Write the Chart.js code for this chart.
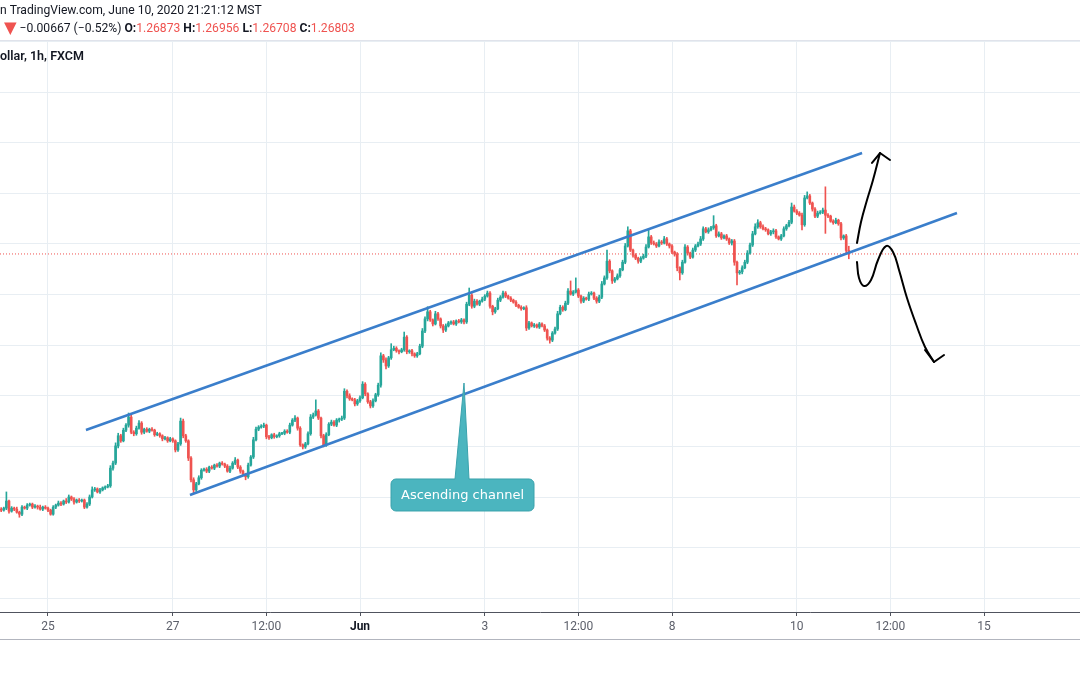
<!DOCTYPE html>
<html>
<head>
<meta charset="utf-8">
<script src="https://cdn.jsdelivr.net/npm/chart.js"></script>
<style>
  html, body { margin: 0; padding: 0; background: #fff; }
  #wrap { width: 1080px; height: 675px; position: relative; }
</style>
</head>
<body>
<div id="wrap"><canvas id="chart"></canvas></div>
<script>
/*
DATA
*/
// hourly candles, hour 0 = 25 May 00:00 (weekends skipped)
const firstHour = -18;
const firstOpen = 1.2176;
const closes = [
  1.2174,1.2178,1.2192,1.2172,1.2178,1.2176,1.2170,1.2166,1.2180,1.2178,1.2184,1.2186,1.2180,1.2182,1.2180,1.2176,1.2180,1.2178,1.2174,1.2166,
  1.2180,1.2184,1.2188,1.2186,1.2192,1.2190,1.2200,1.2196,1.2190,1.2194,1.2192,1.2194,1.2180,1.2186,1.2200,1.2214,1.2216,1.2210,1.2214,1.2218,
  1.2220,1.2222,1.2257,1.2267,1.2301,1.2321,1.2311,1.2332,1.2342,1.2358,1.2328,1.2325,1.2336,1.2346,1.2328,1.2334,1.2330,1.2334,1.2332,1.2323,
  1.2325,1.2321,1.2315,1.2317,1.2311,1.2315,1.2311,1.2293,1.2305,1.2350,1.2321,1.2311,1.2277,1.2234,1.2214,1.2226,1.2238,1.2253,1.2255,1.2251,
  1.2259,1.2257,1.2263,1.2261,1.2267,1.2265,1.2261,1.2251,1.2257,1.2267,1.2273,1.2259,1.2251,1.2245,1.2240,1.2263,1.2279,1.2313,1.2334,1.2338,
  1.2340,1.2342,1.2319,1.2317,1.2323,1.2319,1.2321,1.2325,1.2326,1.2330,1.2328,1.2342,1.2352,1.2356,1.2336,1.2303,1.2299,1.2305,1.2325,1.2358,
  1.2362,1.2370,1.2356,1.2321,1.2303,1.2323,1.2344,1.2348,1.2342,1.2352,1.2354,1.2356,1.2409,1.2400,1.2394,1.2392,1.2384,1.2390,1.2396,1.2423,
  1.2404,1.2388,1.2380,1.2390,1.2402,1.2421,1.2479,1.2471,1.2459,1.2475,1.2491,1.2494,1.2489,1.2487,1.2491,1.2516,1.2487,1.2489,1.2483,1.2479,
  1.2483,1.2498,1.2528,1.2552,1.2566,1.2550,1.2542,1.2562,1.2552,1.2538,1.2530,1.2538,1.2544,1.2546,1.2542,1.2548,1.2546,1.2550,1.2546,1.2581,
  1.2599,1.2577,1.2587,1.2581,1.2587,1.2591,1.2597,1.2603,1.2577,1.2566,1.2572,1.2589,1.2595,1.2603,1.2597,1.2593,1.2589,1.2585,1.2579,1.2575,
  1.2572,1.2574,1.2534,1.2544,1.2538,1.2540,1.2536,1.2542,1.2538,1.2530,1.2514,1.2510,1.2524,1.2532,1.2562,1.2575,1.2570,1.2583,1.2607,1.2601,
  1.2605,1.2609,1.2597,1.2587,1.2593,1.2591,1.2601,1.2603,1.2593,1.2587,1.2595,1.2621,1.2633,1.2666,1.2647,1.2627,1.2631,1.2637,1.2649,1.2664,
  1.2696,1.2726,1.2688,1.2678,1.2672,1.2666,1.2672,1.2676,1.2694,1.2714,1.2702,1.2700,1.2696,1.2704,1.2702,1.2710,1.2700,1.2696,1.2684,1.2680,
  1.2653,1.2643,1.2664,1.2694,1.2682,1.2674,1.2688,1.2696,1.2700,1.2710,1.2730,1.2724,1.2728,1.2732,1.2736,1.2716,1.2720,1.2712,1.2716,1.2710,
  1.2702,1.2706,1.2664,1.2643,1.2645,1.2653,1.2664,1.2682,1.2698,1.2720,1.2734,1.2742,1.2734,1.2730,1.2728,1.2720,1.2724,1.2726,1.2714,1.2710,
  1.2716,1.2730,1.2736,1.2743,1.2773,1.2765,1.2761,1.2757,1.2738,1.2791,1.2795,1.2781,1.2769,1.2755,1.2761,1.2763,1.2767,1.2757,1.2755,1.2745,
  1.2742,1.2747,1.2740,1.2712,1.2716,1.26873,1.26803
];
// wick lengths above / below the body, in pips
const wickUp = [
  3,2,18,2,3,2,4,2,3,2,3,2,2,3,2,4,2,3,2,2,
  3,2,4,3,2,5,4,2,3,2,3,2,2,3,4,6,3,2,3,2,
  2,3,5,4,6,5,3,4,3,8,4,3,4,5,3,2,3,2,3,2,
  3,2,2,3,2,3,2,2,3,6,4,3,2,3,4,3,4,3,2,3,
  2,3,2,3,2,3,2,3,4,3,5,2,3,2,2,4,3,5,4,3,
  3,4,2,3,2,3,2,3,2,3,3,4,3,5,2,3,2,3,4,5,
  4,22,3,2,3,4,3,4,3,3,2,4,5,3,4,2,3,3,4,5,
  3,2,3,4,3,4,6,3,4,3,12,4,3,2,3,10,3,2,3,2,
  3,4,5,4,10,3,2,5,3,2,3,4,3,2,3,2,3,3,2,4,
  14,3,4,3,2,4,3,4,3,2,3,4,3,4,3,2,3,2,3,2,
  3,2,4,3,2,3,2,3,2,3,2,3,3,4,5,4,3,4,5,20,
  3,24,3,2,3,2,4,3,2,3,4,5,4,22,3,2,3,4,3,4,
  5,8,3,2,3,2,3,4,5,14,3,4,3,4,3,5,3,2,3,2,
  3,2,4,5,3,2,4,3,4,5,4,3,4,3,20,3,4,3,2,3,
  2,3,3,2,3,4,4,5,4,5,6,6,3,4,3,2,3,4,3,2,
  3,4,3,4,8,4,3,3,4,5,8,3,2,3,4,3,4,46,3,2,
  3,4,2,3,2,3,8.3
];
const wickDn = [
  3,2,3,4,2,3,2,6,3,2,3,2,3,2,4,2,3,2,3,2,
  2,3,2,3,2,3,2,3,4,2,3,2,3,2,3,2,3,2,3,2,
  3,2,3,4,3,4,3,2,3,4,3,4,3,2,4,3,2,3,2,3,
  2,3,4,2,3,2,3,4,3,3,4,3,5,4,6,3,2,3,2,3,
  3,2,3,2,3,2,3,2,3,2,3,3,4,3,6,3,2,3,2,3,
  2,3,4,3,2,3,2,3,2,3,2,3,2,3,4,3,4,3,2,3,
  3,2,3,4,4,3,2,3,2,3,4,3,3,4,3,2,4,3,3,2,
  4,3,4,3,2,3,4,5,6,3,3,2,3,4,2,3,4,3,4,3,
  3,2,3,3,4,3,4,2,3,4,5,3,2,3,2,3,2,3,4,3,
  3,4,3,2,3,2,3,2,4,6,3,2,3,2,3,2,3,2,3,2,
  3,2,5,3,2,3,2,3,2,3,4,6,3,2,3,2,3,2,3,2,
  3,2,3,4,3,2,3,2,3,4,3,3,2,3,4,5,3,2,3,2,
  3,2,3,4,3,4,3,2,3,2,3,2,3,2,3,2,3,4,3,4,
  6,14,3,2,4,3,2,3,2,3,3,2,3,2,3,3,2,3,2,3,
  3,4,6,24,3,4,2,3,2,3,2,3,3,2,3,2,3,4,3,2,
  3,2,3,2,3,2,3,2,10,3,2,3,4,3,3,2,3,36,3,2,
  3,2,3,4,3,5,9.5
];

const tickHours = [0, 48, 84, 120, 168, 204, 240, 288, 324, 360];
const tickLabels = ['25', '27', '12:00', 'Jun', '3', '12:00', '8', '10', '12:00', '15'];
const priceGrid = [1.20, 1.21, 1.22, 1.23, 1.24, 1.25, 1.26, 1.27, 1.28, 1.29, 1.30, 1.31];
const hourRange = [-18.46, 396.92];
const priceRange = [1.197273, 1.310316];

// drawings (hour, price)
const channelUpper = [{x: 14.6, y: 1.23324}, {x: 313.1, y: 1.28798}];
const channelLower = [{x: 54.6, y: 1.22040}, {x: 349.6, y: 1.27613}];
const arrowUp = [
  {x: 311.15, y: 1.27020}, {x: 312.69, y: 1.27435}, {x: 315.0, y: 1.27869},
  {x: 317.31, y: 1.28265}, {x: 320.0, y: 1.28798}
];
const arrowUpHead = [{x: 316.92, y: 1.28601}, {x: 320.0, y: 1.28798}, {x: 323.85, y: 1.28660}];
const arrowDown = [
  {x: 311.15, y: 1.26644}, {x: 311.92, y: 1.26328}, {x: 313.85, y: 1.26170},
  {x: 316.54, y: 1.26289}, {x: 319.23, y: 1.26684}, {x: 322.31, y: 1.26960},
  {x: 325.0, y: 1.26842}, {x: 327.31, y: 1.26486}, {x: 330.38, y: 1.25933},
  {x: 333.85, y: 1.25419}, {x: 337.31, y: 1.24964}, {x: 340.77, y: 1.24668}
];
const arrowDownHead = [{x: 337.31, y: 1.24905}, {x: 340.77, y: 1.24668}, {x: 344.62, y: 1.24806}];
const calloutTip = {x: 160, y: 1.24253};
const calloutText = 'Ascending channel';

const titleText = 'n TradingView.com, June 10, 2020 21:21:12 MST';
const changeText = '\u22120.00667 (\u22120.52%)';
const symbolText = 'ollar, 1h, FXCM';

/*
COLORS
*/
const GREEN = '#26a69a';
const RED = '#ef5350';
const GRID = '#e8eef3';
const TEXT = '#131722';
const FONT = 'Roboto, "Liberation Sans", sans-serif';

/*
CANDLES
*/
const PIP = 0.0001;
const opens = closes.map((c, i) => i ? closes[i - 1] : firstOpen);
const highs = closes.map((c, i) => Math.max(opens[i], c) + wickUp[i] * PIP);
const lows = closes.map((c, i) => Math.min(opens[i], c) - wickDn[i] * PIP);
const candleColor = closes.map((c, i) => c >= opens[i] ? GREEN : RED);
const last = closes.length - 1;

let wickData = closes.map((c, i) => ({x: firstHour + i, y: [lows[i], highs[i]]}));
let bodyData = closes.map((c, i) => ({x: firstHour + i, y: [Math.min(opens[i], c), Math.max(opens[i], c)]}));

function fitFont(ctx, text, width, weight, family) {
  ctx.font = weight + ' 20px ' + family;
  let size = 20 * width / ctx.measureText(text).width;
  return weight + ' ' + size.toFixed(2) + 'px ' + family;
}

// header texts, pane borders
const headerPlugin = {
  id: 'header',
  afterDraw(chart) {
    const ctx = chart.ctx;
    ctx.save();
    ctx.strokeStyle = '#e0e3eb';
    ctx.lineWidth = 1;
    ctx.beginPath();
    ctx.moveTo(0, 40.5); ctx.lineTo(1080, 40.5);
    ctx.stroke();
    ctx.strokeStyle = '#b2b5be';
    ctx.beginPath();
    ctx.moveTo(0, 639.5); ctx.lineTo(1080, 639.5);
    ctx.stroke();

    ctx.textBaseline = 'middle';
    ctx.textAlign = 'left';
    let f1 = fitFont(ctx, titleText, 262, '400', FONT);
    ctx.font = f1;
    ctx.fillStyle = TEXT;
    ctx.fillText(titleText, 0, 11);

    let size = parseFloat(f1.split(' ')[1]);
    let normal = '400 ' + size + 'px ' + FONT;
    let bold = '700 ' + size + 'px ' + FONT;
    let arrowFont = '400 ' + (size * 1.35).toFixed(2) + 'px "DejaVu Sans", sans-serif';
    let ohlc = [opens[last], highs[last], lows[last], closes[last]];
    let parts = [['\u25BC', RED, arrowFont], [' ' + changeText + ' ', TEXT, normal]];
    ['O', 'H', 'L', 'C'].forEach((k, i) => {
      parts.push([(i ? ' ' : '') + k + ':', TEXT, bold]);
      parts.push([ohlc[i].toFixed(5), RED, normal]);
    });
    let x = 4;
    for (let p of parts) {
      ctx.font = p[2];
      ctx.fillStyle = p[1];
      ctx.fillText(p[0], x, 29);
      x += ctx.measureText(p[0]).width;
    }

    ctx.font = fitFont(ctx, symbolText, 84, '600', FONT);
    ctx.fillStyle = TEXT;
    ctx.fillText(symbolText, 0, 57);
    ctx.restore();
  }
};

// text callout pointing at the lower channel line
const calloutPlugin = {
  id: 'callout',
  afterDatasetsDraw(chart) {
    const {ctx, scales: {x, y}} = chart;
    let tx = x.getPixelForValue(calloutTip.x);
    let ty = y.getPixelForValue(calloutTip.y);
    let L = tx - 73, R = tx + 70, T = ty + 96, B = ty + 128, r = 5;
    ctx.save();
    ctx.beginPath();
    ctx.moveTo(L + r, T);
    ctx.lineTo(tx - 9, T);
    ctx.lineTo(tx, ty);
    ctx.lineTo(tx + 5, T);
    ctx.lineTo(R - r, T);
    ctx.arcTo(R, T, R, T + r, r);
    ctx.lineTo(R, B - r);
    ctx.arcTo(R, B, R - r, B, r);
    ctx.lineTo(L + r, B);
    ctx.arcTo(L, B, L, B - r, r);
    ctx.lineTo(L, T + r);
    ctx.arcTo(L, T, L + r, T, r);
    ctx.closePath();
    ctx.fillStyle = '#4bb5bf';
    ctx.fill();
    ctx.strokeStyle = '#3aa2ac';
    ctx.lineWidth = 1;
    ctx.stroke();
    ctx.font = fitFont(ctx, calloutText, 123, '400', '"DejaVu Sans", Verdana, sans-serif');
    ctx.fillStyle = '#ffffff';
    ctx.textAlign = 'center';
    ctx.textBaseline = 'middle';
    ctx.fillText(calloutText, (L + R) / 2, (T + B) / 2 + 0.5);
    ctx.restore();
  }
};

function lineSet(data, color, width, order, extra) {
  return Object.assign({
    type: 'line',
    data: data,
    borderColor: color,
    borderWidth: width,
    pointRadius: 0,
    fill: false,
    order: order
  }, extra || {});
}

let canvas = document.getElementById('chart');
let chart = new Chart(canvas, {
  type: 'bar',
  data: {
    datasets: [
      {
        data: wickData,
        backgroundColor: candleColor,
        barThickness: 1,
        grouped: false,
        order: 5
      },
      {
        data: bodyData,
        backgroundColor: candleColor,
        barThickness: 2,
        minBarLength: 1,
        grouped: false,
        order: 4
      },
      lineSet([{x: hourRange[0], y: closes[last]}, {x: hourRange[1], y: closes[last]}], RED, 1, 6, {borderDash: [1, 2]}),
      lineSet(channelUpper, '#3a7ecb', 2.5, 2),
      lineSet(channelLower, '#3a7ecb', 2.5, 2),
      lineSet(arrowUp, '#000000', 2, 1, {tension: 0.4, borderCapStyle: 'round'}),
      lineSet(arrowUpHead, '#000000', 2, 1, {borderCapStyle: 'round', borderJoinStyle: 'round'}),
      lineSet(arrowDown, '#000000', 2, 1, {tension: 0.4, borderCapStyle: 'round'}),
      lineSet(arrowDownHead, '#000000', 2, 1, {borderCapStyle: 'round', borderJoinStyle: 'round'})
    ]
  },
  options: {
    responsive: true,
    maintainAspectRatio: false,
    animation: false,
    events: [],
    layout: { padding: { top: 40, bottom: 36, left: 0, right: 0 } },
    plugins: {
      legend: { display: false },
      tooltip: { enabled: false }
    },
    scales: {
      x: {
        type: 'linear',
        min: hourRange[0],
        max: hourRange[1],
        offset: false,
        grid: { color: GRID, offset: false, tickLength: 4, tickColor: '#50535e' },
        border: { color: '#50535e' },
        afterBuildTicks: (scale) => { scale.ticks = tickHours.map(v => ({value: v})); },
        afterFit: (scale) => { scale.height = 27; },
        ticks: {
          autoSkip: false,
          maxRotation: 0,
          padding: 4,
          callback: (v) => tickLabels[tickHours.indexOf(v)] || '',
          color: (c) => c.tick && c.tick.label === 'Jun' ? TEXT : '#5d606b',
          font: (c) => ({family: FONT, size: 12, weight: c.tick && c.tick.label === 'Jun' ? 'bold' : 'normal'})
        }
      },
      y: {
        type: 'linear',
        min: priceRange[0],
        max: priceRange[1],
        grid: { color: GRID, drawTicks: false },
        border: { display: false },
        afterBuildTicks: (scale) => { scale.ticks = priceGrid.map(v => ({value: v})); },
        afterFit: (scale) => { scale.width = 0; },
        ticks: { display: false }
      }
    }
  },
  plugins: [calloutPlugin, headerPlugin]
});
</script>
</body>
</html>
